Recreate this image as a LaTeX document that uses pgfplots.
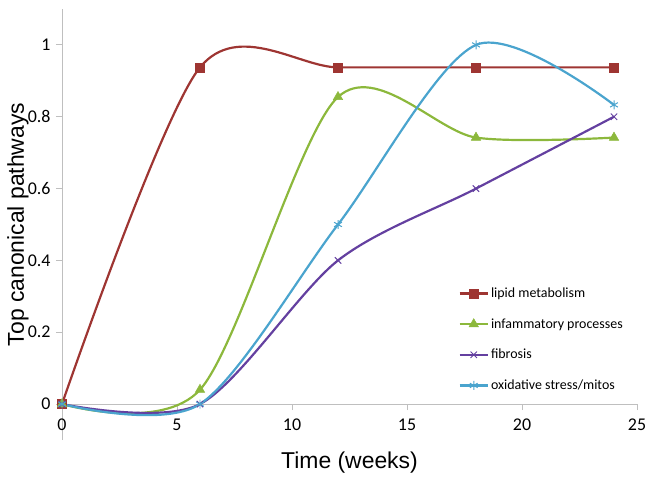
\documentclass[border=0pt]{standalone}
\usepackage{pgfplots}
\pgfplotsset{compat=1.18}
\usepackage{fontspec}
\setmainfont{Liberation Sans}
\newfontfamily\carlitofont{Carlito}
\definecolor{clipid}{HTML}{9E3532}
\definecolor{cinfl}{HTML}{8CB83C}
\definecolor{cfib}{HTML}{6440A0}
\definecolor{cox}{HTML}{4AA4CE}
\definecolor{caxis}{HTML}{BFBFBF}
\begin{document}
\begin{tikzpicture}
\begin{axis}[
  scale only axis, width=575bp, height=431bp,
  xmin=0, xmax=25, ymin=-0.1, ymax=1.1,
  axis x line*=middle, axis y line*=left,
  hide obscured x ticks=false, hide obscured y ticks=false,
  axis line style={caxis, line width=1pt},
  tick style={caxis, line width=1pt},
  major tick length=6bp, tick align=outside,
  xtick={0,5,10,15,20,25},
  ytick={0,0.2,0.4,0.6,0.8,1},
  yticklabels={0,0.2,0.4,0.6,0.8,1},
  /pgf/number format/assume math mode=true,
  tick label style={font=\carlitofont\fontsize{18}{20}\selectfont, text=black},
  xticklabel style={yshift=-5bp},
  yticklabel style={xshift=-2bp},
  xlabel={Time (weeks)},
  ylabel={Top canonical pathways},
  xlabel style={at={(axis description cs:0.5,0)}, anchor=center, yshift=-23bp, font=\fontsize{23}{26}\selectfont},
  ylabel style={at={(axis description cs:0,0.5)}, anchor=center, yshift=44bp, font=\fontsize{23}{26}\selectfont},
  legend style={at={(axis cs:17.1,0.335)}, anchor=north west, draw=none, fill=none,
    font=\carlitofont\fontsize{14}{16}\selectfont, row sep=15.5bp},
  legend cell align=left,
  legend image code/.code={\draw[mark repeat=2,mark phase=2] plot coordinates {(0cm,0cm)(0.5cm,0cm)(1cm,0cm)};},
  every axis plot/.append style={line width=2.2pt, smooth, tension=0.5},
]
\addplot[color=clipid, mark=square*, mark size=4.5pt, mark options={solid, line width=0.5pt}]
  coordinates {(0,0) (6,0.9375) (12,0.9375) (18,0.9375) (24,0.9375)};
\addlegendentry{lipid metabolism}
\addplot[color=cinfl, mark=triangle*, mark size=5.5pt, mark options={solid, line width=0.5pt}]
  coordinates {(0,0) (6,0.04) (12,0.855) (18,0.742) (24,0.742)};
\addlegendentry{infammatory processes}
\addplot[color=cfib, mark=x, mark size=4.5pt, mark options={solid, line width=1pt}]
  coordinates {(0,0) (6,0) (12,0.4) (18,0.6) (24,0.8)};
\addlegendentry{fibrosis}
\addplot[color=cox, mark=asterisk, mark size=4.5pt, mark options={solid, line width=1pt}]
  coordinates {(0,0) (6,0) (12,0.5) (18,1.0) (24,0.833)};
\addlegendentry{oxidative stress/mitos}
\end{axis}
\pgfresetboundingbox
\useasboundingbox ([xshift=-62bp,yshift=-38bp]current axis.south west) rectangle ([xshift=23bp,yshift=9bp]current axis.north east);
\end{tikzpicture}
\end{document}
